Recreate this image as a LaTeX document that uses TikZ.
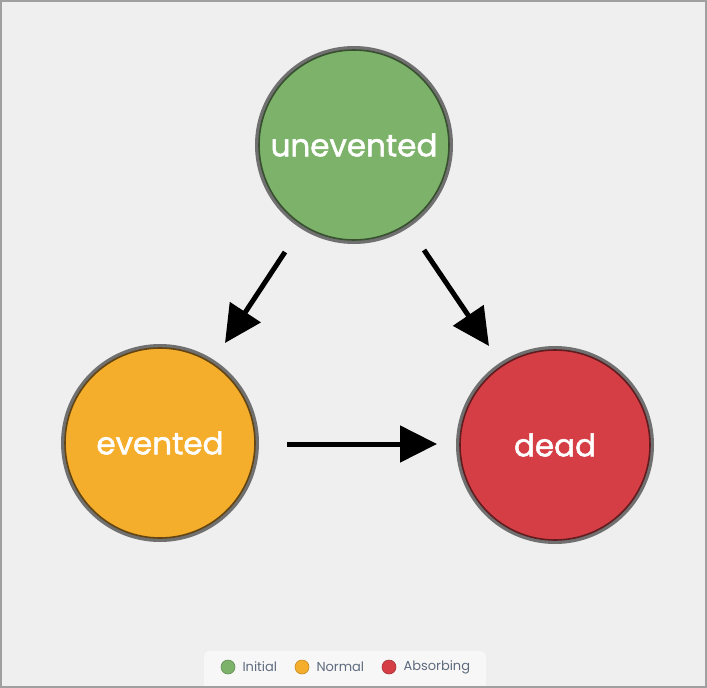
\documentclass[tikz,border=0pt]{standalone}
\usepackage{fontspec}
\setmainfont{Poppins}
\newfontfamily\statefont[FakeBold=1.6]{Poppins}
\usetikzlibrary{arrows.meta,positioning}
\definecolor{bg}{HTML}{EFEFEF}
\definecolor{frame}{HTML}{A0A0A0}
\definecolor{ringgray}{HTML}{707070}
\definecolor{initc}{HTML}{7DB26A}
\definecolor{normc}{HTML}{F5AD2C}
\definecolor{absc}{HTML}{D53E45}
\definecolor{legtext}{HTML}{5E6B7E}
\definecolor{legbg}{HTML}{F7F7F7}
\tikzset{
  statebox/.style={circle, minimum size=194pt, inner sep=0pt, draw=ringgray, line width=4pt,
    text=white, font=\fontsize{31}{31}\statefont},
  inner ring/.style={line width=1.6pt},
  trans/.style={line width=5pt, -{Triangle[length=37pt,width=36pt]}},
  legdot/.style={circle, minimum size=14pt, inner sep=0pt, draw=#1!80!black, line width=0.6pt, fill=#1},
  legtxt/.style={text=legtext, font=\fontsize{13}{14}\selectfont, anchor=west, inner sep=0pt},
}
\begin{document}
\begin{tikzpicture}[x=1pt,y=-1pt]
\useasboundingbox (0,0) rectangle (707,688);
\fill[bg] (0,0) rectangle (707,688);
\draw[frame, line width=1.5pt] (0.75,0.75) rectangle (706,687);
% states
\node[statebox, fill=initc] (u) at (354,145) {unevented};
\node[statebox, fill=normc] (e) at (160,443) {evented};
\node[statebox, fill=absc] (d) at (555,445) {dead};
\draw[inner ring, initc!45!black] (u.center) circle (95pt);
\draw[inner ring, normc!40!black] (e.center) circle (95pt);
\draw[inner ring, absc!45!black] (d.center) circle (95pt);
% connectors
\coordinate (a1s) at (285,252); \coordinate (a1e) at (225,343);
\coordinate (a2s) at (424,250); \coordinate (a2e) at (489,346);
\coordinate (a3s) at (287,444); \coordinate (a3e) at (437,444);
\draw[trans] (a1s) -- (a1e);
\draw[trans] (a2s) -- (a2e);
\draw[trans] (a3s) -- (a3e);
% legend
\fill[legbg] (204,651) [rounded corners=5pt] -- (486,651) -- (486,700) -- (204,700) -- cycle;
\fill[bg] (0,686) rectangle (707,688);
\draw[frame, line width=1.5pt] (0,687) -- (707,687);
\node[legdot=initc] (l1) at (228,667) {};
\node[legtxt, right=7pt of l1] (t1) {Initial};
\node[legdot=normc] (l2) at (302,667) {};
\node[legtxt, right=7pt of l2] (t2) {Normal};
\node[legdot=absc] (l3) at (389,667) {};
\node[legtxt, right=7pt of l3] (t3) {Absorbing};
\end{tikzpicture}
\end{document}
